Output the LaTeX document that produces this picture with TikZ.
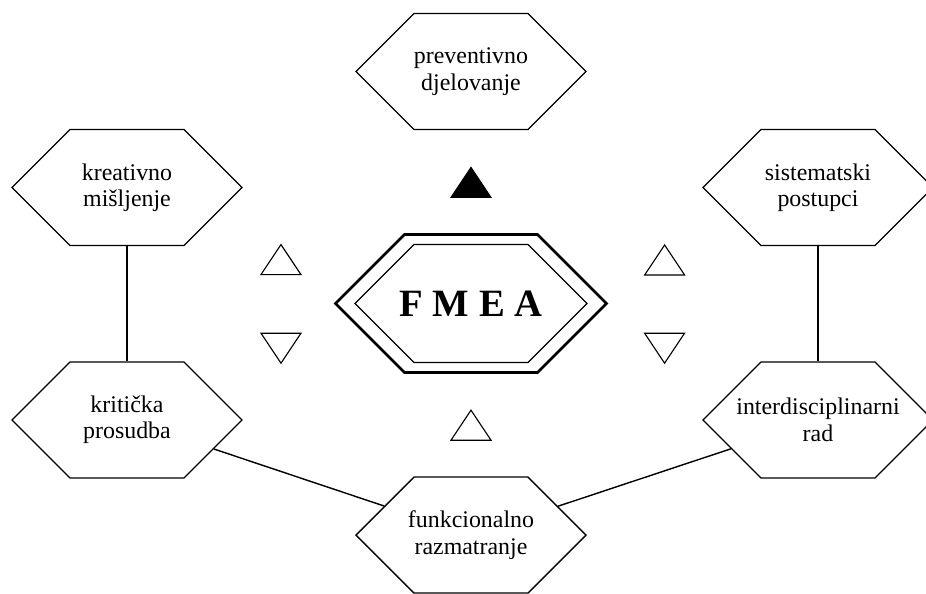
\documentclass[tikz,border=0pt]{standalone}
\usepackage{fontspec}
\setmainfont{Liberation Serif}
\usepackage{tikz}
\usetikzlibrary{shapes.geometric, shapes.symbols}

\begin{document}
\begin{tikzpicture}[
  hextext/.style={align=center, inner sep=0pt, font=\fontsize{17}{18.7}\selectfont},
  hexbox/.style={signal, signal to=west and east, signal pointer angle=90, draw=black, fill=white, line width=0.9pt, minimum width=5.75cm, minimum height=2.9cm, label={[hextext]center:#1}},
  tri/.style={isosceles triangle, isosceles triangle stretches, shape border rotate=90, draw=black, line width=0.8pt, minimum width=1cm, minimum height=0.75cm, inner sep=0pt}
]
  \useasboundingbox (-11.775,-7.2375) rectangle (11.375,7.5875);

  % Nodes
  \node[signal, signal to=west and east, signal pointer angle=90, draw=black, line width=2pt, minimum width=6.775cm, minimum height=3.45cm] (fmeaframe) at (0,0) {};
  \node[signal, signal to=west and east, signal pointer angle=90, draw=black, line width=0.8pt, minimum width=5.8cm, minimum height=2.95cm, label={[font=\fontsize{27.5}{30}\selectfont\bfseries]center:F M E A}] (fmea) at (0,0) {};
  \node[hexbox={preventivno\\djelovanje}] (prev) at (0,5.8) {};
  \node[hexbox={kreativno\\mišljenje}] (krea) at (-8.6,2.9) {};
  \node[hexbox={kritička\\prosudba}] (krit) at (-8.6,-2.91) {};
  \node[hexbox={sistematski\\postupci}] (sist) at (8.675,2.9) {};
  \node[hexbox={interdisciplinarni\\rad}] (inter) at (8.675,-2.91) {};
  \node[hexbox={funkcionalno\\razmatranje}] (funk) at (0,-5.79) {};

  % Triangles
  \node[tri, fill=black] (topmark) at (0,2.92) {};
  \node[tri] (leftup) at (-4.75,0.99) {};
  \node[tri, shape border rotate=270] (leftdown) at (-4.75,-1.01) {};
  \node[tri] (rightup) at (4.84,0.98) {};
  \node[tri, shape border rotate=270] (rightdown) at (4.84,-1.01) {};
  \node[tri] (bottomup) at (0,-3.15) {};

  % Lines
  \draw[line width=1pt] (krea) -- (krit);
  \draw[line width=1pt] (sist) -- (inter);
  \draw[line width=1pt] (krit) -- (funk);
  \draw[line width=1pt] (inter) -- (funk);

\end{tikzpicture}
\end{document}
